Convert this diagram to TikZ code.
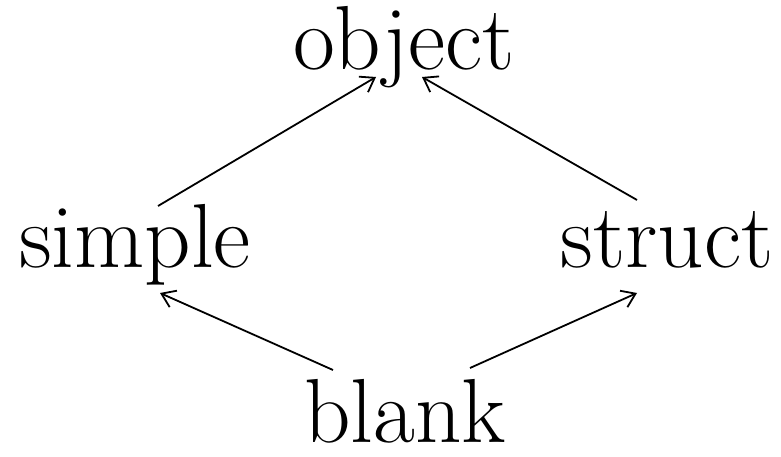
\documentclass[tikz,border=0pt]{standalone}
\usepackage{fontspec}
\usepackage{tikz}
\usetikzlibrary{arrows.meta}

\begin{document}
\begin{tikzpicture}[x=1pt, y=1pt,
  word/.style={anchor=base, inner sep=0pt, font=\fontsize{91}{96}\selectfont},
  up/.style={-{Straight Barb[length=13pt, width=18pt]}, line width=1.8pt}]
  \useasboundingbox (0,0) rectangle (781,457);
  % the lattice: blank at the bottom, object at the top
  \node[word] (object) at (404,387) {object};
  \node[word] (simple) at (135,189) {simple};
  \node[word] (struct) at (667,189) {struct};
  \node[word] (blank) at (405,14) {blank};
  \draw[up] ([shift={(23,62)}]simple.base) -- ([shift={(-28,-7)}]object.base);
  \draw[up] ([shift={(-30,68)}]struct.base) -- ([shift={(18,-7)}]object.base);
  \draw[up] ([shift={(-72,73)}]blank.base) -- ([shift={(25,-25)}]simple.base);
  \draw[up] ([shift={(65,75)}]blank.base) -- ([shift={(-30,-25)}]struct.base);
\end{tikzpicture}
\end{document}
